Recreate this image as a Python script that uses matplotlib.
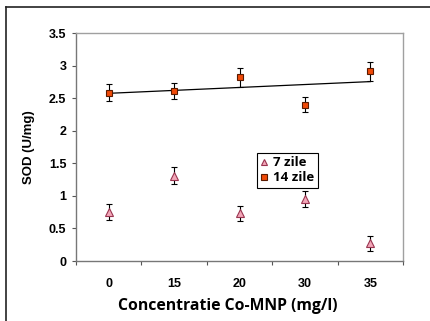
import matplotlib.pyplot as plt
from matplotlib.lines import Line2D
import numpy as np

categories = ['0', '15', '20', '30', '35']
zile7 = [0.75, 1.31, 0.73, 0.95, 0.27]
zile7_err = [0.12, 0.13, 0.12, 0.12, 0.12]
zile14 = [2.58, 2.61, 2.82, 2.40, 2.91]
zile14_err = [0.13, 0.13, 0.15, 0.12, 0.14]

fig = plt.figure(figsize=(4.30, 3.21), dpi=100)
# outer frame lines (top and left only, as in the cropped original)
fig.add_artist(plt.Line2D([6/430, 1], [1 - 7/321, 1 - 7/321], color='#222222', lw=1.2))
fig.add_artist(plt.Line2D([6/430, 6/430], [0, 1 - 7/321], color='#222222', lw=1.2))

ax = fig.add_axes([76/430, 1 - 261/321, 327/430, 228/321])
x = np.arange(len(categories)) + 1

st7 = dict(marker='^', ms=5.5, mfc='#f2a6b8', mec='#9a3550', mew=0.8)
st14 = dict(marker='s', ms=5, mfc='#f04a08', mec='#5a1a00', mew=0.8)

ax.errorbar(x, zile7, yerr=zile7_err, ls='none', **st7,
            ecolor='black', elinewidth=0.8, capsize=2, capthick=0.8, zorder=3)
ax.errorbar(x, zile14, yerr=zile14_err, ls='none', **st14,
            ecolor='black', elinewidth=0.8, capsize=2, capthick=0.8, zorder=3)

# linear trendline of 14 zile
k, b = np.polyfit(x, zile14, 1)
ax.plot([x[0], x[-1]], [k * x[0] + b, k * x[-1] + b], color='black', lw=0.9, zorder=2)

ax.set_xlim(0.5, 5.5)
ax.set_ylim(0, 3.5)
ax.set_yticks(np.arange(0, 3.51, 0.5))
ax.set_yticklabels(['0', '0.5', '1', '1.5', '2', '2.5', '3', '3.5'])
ax.set_xticks(np.arange(0.5, 5.6, 1))
ax.set_xticklabels([])
ax.set_xticks(x, minor=True)
ax.set_xticklabels(categories, minor=True)
ax.tick_params(axis='x', which='minor', length=0, pad=12)
ax.tick_params(axis='both', which='major', length=3, width=0.8, color='#555555', direction='out')
for lab in ax.get_yticklabels() + ax.get_xticklabels(minor=True):
    lab.set_fontfamily('Liberation Sans')
    lab.set_fontweight('bold')
    lab.set_fontsize(9)
ax.tick_params(axis='y', pad=4)

for s in ax.spines.values():
    s.set_color('#a0a0a0')
    s.set_linewidth(1.0)
ax.spines['left'].set_color('#777777')
ax.spines['bottom'].set_color('#777777')

ax.set_ylabel('SOD (U/mg)', fontfamily='Liberation Sans', fontweight='bold', fontsize=9.5)
ax.yaxis.set_label_coords(-41/327, 0.5)
ax.set_xlabel('Concentratie Co-MNP (mg/l)', fontfamily='Open Sans', fontweight='bold', fontsize=11.3)
ax.xaxis.set_label_coords((228 - 76)/327, -37/228)

handles = [Line2D([], [], ls='none', **{**st7, 'ms': 4.5}),
           Line2D([], [], ls='none', **{**st14, 'ms': 4})]
leg = ax.legend(handles, ['7 zile', '14 zile'], loc='upper left', bbox_to_anchor=(181/327, 108/228),
                frameon=True, fancybox=False, edgecolor='black', framealpha=1,
                handlelength=0.6, handletextpad=0.4, borderpad=0.25, labelspacing=0.15, borderaxespad=0,
                prop={'family': 'Open Sans', 'weight': 'bold', 'size': 9.5})
leg.get_frame().set_linewidth(0.8)

fig.savefig('out.png', dpi=100)
